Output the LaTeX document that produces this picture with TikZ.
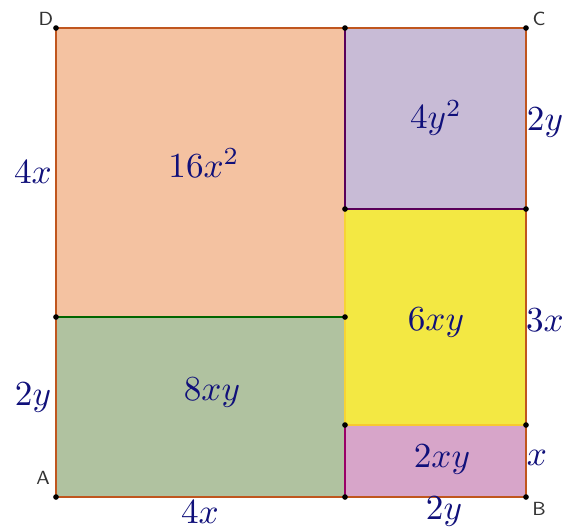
\documentclass[tikz,border=0pt]{standalone}
\usepackage{tikz}

\definecolor{ink}{HTML}{10107A}
\definecolor{sqorange}{HTML}{F4C2A1}
\definecolor{sqpurple}{HTML}{C8BBD6}
\definecolor{sqyellow}{HTML}{F3E843}
\definecolor{sqgreen}{HTML}{B0C2A0}
\definecolor{sqpink}{HTML}{D7A5C9}
\definecolor{edgebrown}{HTML}{C0561E}

\tikzset{
  area/.style={text=ink, font=\fontsize{10}{12}\selectfont},
  side/.style={text=ink, font=\fontsize{10}{12}\selectfont},
  vertex/.style={font=\sffamily\fontsize{5.4}{6}\selectfont, text=black!80},
  dot/.style={fill=black, circle, inner sep=0pt, minimum size=1.6pt},
}

\begin{document}
\begin{tikzpicture}[x=0.01cm, y=-0.01cm, line join=round]
    \useasboundingbox (0,0) rectangle (572,527);
    % corners and split points
    \coordinate (A) at (56,497);
    \coordinate (B) at (526,497);
    \coordinate (C) at (526,28);
    \coordinate (D) at (56,28);
    \coordinate (top) at (345,28);
    \coordinate (bot) at (345,497);
    \coordinate (lmid) at (56,317);
    \coordinate (cmid) at (345,317);
    \coordinate (pu1) at (345,209);
    \coordinate (pu2) at (526,209);
    \coordinate (pk1) at (345,425);
    \coordinate (pk2) at (526,425);
    % pieces
    \fill[sqorange] (D) rectangle (cmid);
    \fill[sqgreen] (lmid) rectangle (bot);
    \fill[sqpurple] (top) rectangle (pu2);
    \fill[sqyellow] (pu1) rectangle (pk2);
    \fill[sqpink] (pk1) rectangle (B);
    \draw[sqyellow!80!orange, line width=0.6pt] (pu1) -- (pk1);
    \draw[green!40!black, line width=0.6pt] (lmid) -- (cmid);
    \draw[violet!70!black, line width=0.6pt] (top) -- (pu1) -- (pu2);
    \draw[violet!80!red, line width=0.6pt] (pk1) -- (bot);
    \draw[sqyellow!70!orange, line width=0.6pt] (pk1) -- (pk2);
    \draw[edgebrown, line width=0.6pt] (A) -- (B) -- (C) -- (D) -- cycle;
    % dots
    \foreach \p in {A,B,C,D,top,bot,lmid,cmid,pu1,pu2,pk1,pk2}
        \node[dot] at (\p) {};
    % vertex names
    \node[vertex] (nA) at (43,478) {A};
    \node[vertex] (nB) at (539,509) {B};
    \node[vertex] (nC) at (539,19) {C};
    \node[vertex] (nD) at (46,19) {D};
    % areas
    \node[area] (a1) at (204,163) {$16x^2$};
    \node[area] (a2) at (436,118) {$4y^2$};
    \node[area] (a3) at (436,323) {$6xy$};
    \node[area] (a4) at (212,393) {$8xy$};
    \node[area] (a5) at (442,460) {$2xy$};
    % sides
    \node[side] (s1) at (33,172) {$4x$};
    \node[side] (s2) at (33,398) {$2y$};
    \node[side] (s3) at (200,512) {$4x$};
    \node[side] (s4) at (444,512) {$2y$};
    \node[side] (s5) at (545,123) {$2y$};
    \node[side] (s6) at (545,320) {$3x$};
    \node[side] (s7) at (537,458) {$x$};
\end{tikzpicture}
\end{document}
